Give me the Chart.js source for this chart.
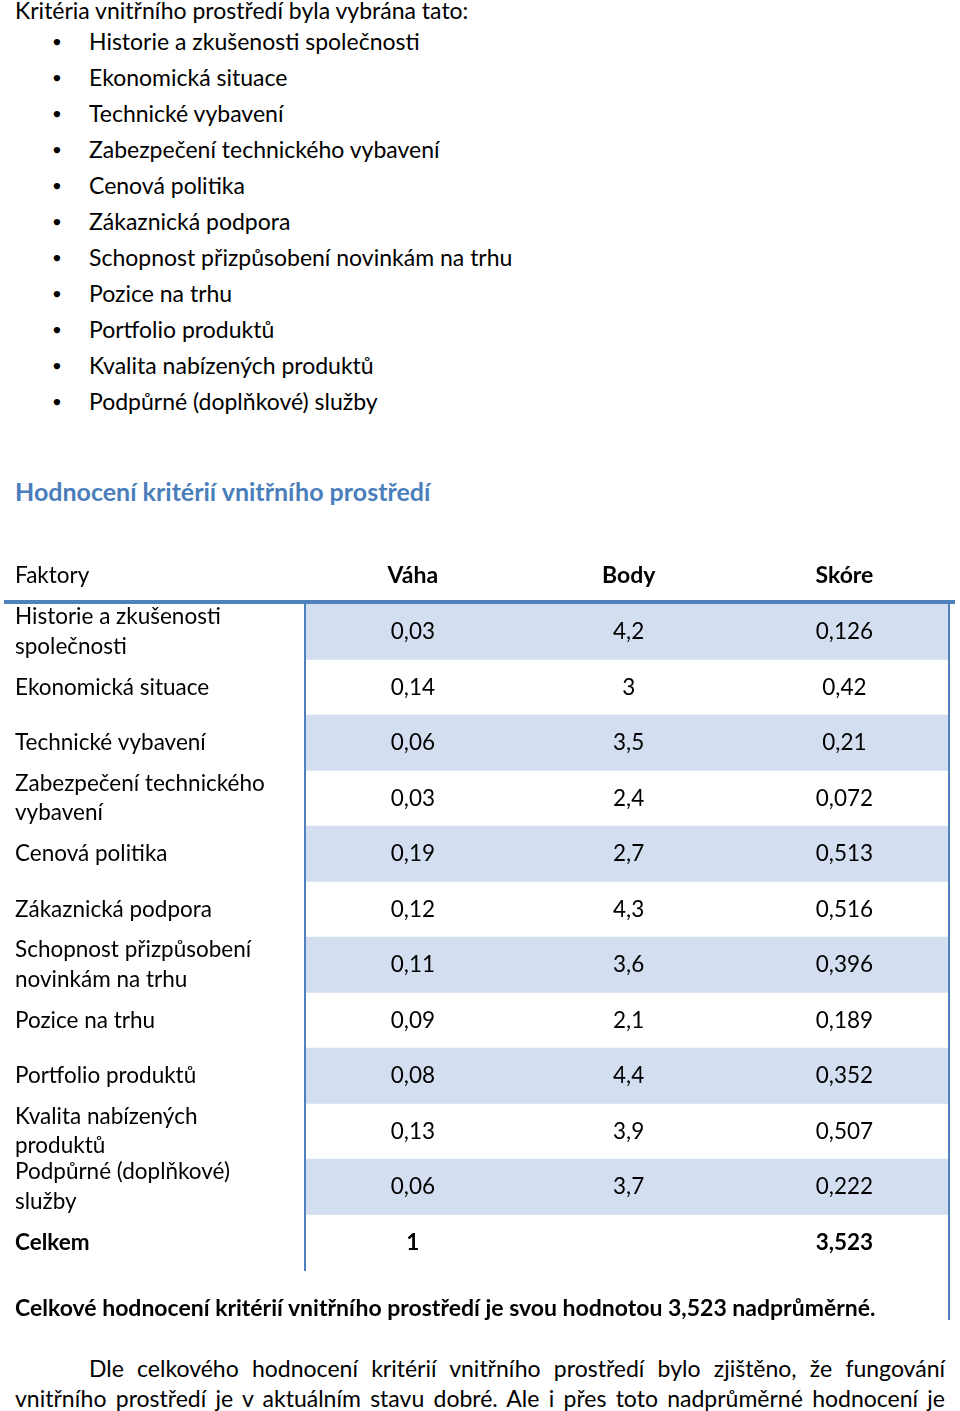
<!DOCTYPE html>
<html lang="cs">
<head>
<meta charset="utf-8">
<script src="https://cdn.jsdelivr.net/npm/chart.js@4/dist/chart.umd.min.js"></script>
<style>
  html, body { margin:0; padding:0; background:#fff; }
  body { width:960px; height:1411px; position:relative; overflow:hidden; font-family: Lato, "Open Sans", sans-serif; color:#000; }
  .t { position:absolute; white-space:nowrap; font-size:23px; line-height:26px; }
  .b { font-weight:bold; }
  #wrap { position:absolute; left:0; top:550px; width:960px; height:790px; }
  .just { position:absolute; left:15px; width:930px; font-size:23px; line-height:26px; text-align:justify; text-align-last:justify; white-space:nowrap; }
</style>
</head>
<body>
<div id="wrap"><canvas id="c" width="960" height="790"></canvas></div>
<div id="text"></div>
<script>
// ---- content ----
const introLine = "Kritéria vnitřního prostředí byla vybrána tato:";
const bulletItems = ["Historie a zkušenosti společnosti","Ekonomická situace","Technické vybavení","Zabezpečení technického vybavení","Cenová politika","Zákaznická podpora","Schopnost přizpůsobení novinkám na trhu","Pozice na trhu","Portfolio produktů","Kvalita nabízených produktů","Podpůrné (doplňkové) služby"];
const heading = "Hodnocení kritérií vnitřního prostředí";
const summary = "Celkové hodnocení kritérií vnitřního prostředí je svou hodnotou 3,523 nadprůměrné.";
const paraLines = ["Dle celkového hodnocení kritérií vnitřního prostředí bylo zjištěno, že fungování","vnitřního prostředí je v aktuálním stavu dobré. Ale i přes toto nadprůměrné hodnocení je"];

// ---- table data ----
const headerFirst = "Faktory";
const columns = ["Váha","Body","Skóre"];
const factors = [["Historie a zkušenosti","společnosti"],"Ekonomická situace","Technické vybavení",["Zabezpečení technického","vybavení"],"Cenová politika","Zákaznická podpora",["Schopnost přizpůsobení","novinkám na trhu"],"Pozice na trhu","Portfolio produktů",["Kvalita nabízených","produktů"],["Podpůrné (doplňkové)","služby"],"Celkem"];
const vaha  = [0.03,0.14,0.06,0.03,0.19,0.12,0.11,0.09,0.08,0.13,0.06,1];
const body  = [4.2,3,3.5,2.4,2.7,4.3,3.6,2.1,4.4,3.9,3.7,null];
const skore = [0.126,0.42,0.21,0.072,0.513,0.516,0.396,0.189,0.352,0.507,0.222,3.523];
const striped = [true,false,true,false,true,false,true,false,true,false,true,false];

const X_MIN = 0.5, X_MAX = 3.48;
const BLUE = '#4f81bd', STRIPE = '#d3dff0';
const FONT = 'Lato, "Open Sans", sans-serif';
const fmt = v => v === null ? '' : String(v).replace('.', ',');

// ---- HTML text ----
const T = document.getElementById('text');
function add(txt, x, yc, cls, style) {
  const d = document.createElement('div');
  d.className = 't ' + (cls || '');
  d.textContent = txt;
  d.style.left = x + 'px';
  d.style.top = (yc - 13) + 'px';
  if (style) Object.assign(d.style, style);
  T.appendChild(d);
}
add(introLine, 15, 10);
bulletItems.forEach((s, i) => {
  const y = 41 + i * 36;
  add('●', 53, y, '', {fontSize:'13px'});
  add(s, 89, y);
});
add(heading, 15, 491, 'b', {color:'#4a7ebb', fontSize:'25px'});
add(summary, 15, 1307, 'b');
paraLines.forEach((s, i) => {
  const d = document.createElement('div');
  d.className = 'just';
  d.textContent = s;
  d.style.top = (1368 + i * 30 - 13) + 'px';
  if (i === 0) { d.style.left = '89px'; d.style.width = '856px'; }
  T.appendChild(d);
});

// ---- chart ----
const tablePlugin = {
  id: 'tablePlugin',
  afterDraw(chart) {
    const {ctx, scales: {x, y}} = chart;
    ctx.save();
    // header
    ctx.fillStyle = '#000';
    ctx.textBaseline = 'middle';
    ctx.font = '22.5px ' + FONT;
    ctx.textAlign = 'left';
    ctx.fillText(headerFirst, 15, 26);
    ctx.font = 'bold 23px ' + FONT;
    ctx.textAlign = 'center';
    columns.forEach((c, i) => ctx.fillText(c, x.getPixelForValue(i + 1), 26));
    // cells
    factors.forEach((f, r) => {
      const py = y.getPixelForValue(r);
      ctx.font = (r === factors.length - 1 ? 'bold ' : '') + '22.5px ' + FONT;
      [vaha[r], body[r], skore[r]].forEach((v, c) => {
        ctx.fillText(fmt(v), x.getPixelForValue(c + 1), py);
      });
    });
    // top rule
    ctx.fillStyle = BLUE;
    ctx.fillRect(4, 50, 951, 4);
    // right rule
    ctx.fillRect(948, 52, 2, 770 - 52);
    ctx.restore();
  }
};

new Chart(document.getElementById('c'), {
  type: 'bar',
  data: {
    labels: factors,
    datasets: [{
      data: striped.map(s => s ? [X_MIN, X_MAX] : null),
      backgroundColor: STRIPE,
      borderWidth: 0,
      barPercentage: 1,
      categoryPercentage: 1
    }]
  },
  options: {
    indexAxis: 'y',
    responsive: false,
    animation: false,
    devicePixelRatio: 1,
    layout: { padding: { left: 15, right: 12, top: 54, bottom: 70 } },
    plugins: { legend: { display: false }, tooltip: { enabled: false } },
    scales: {
      x: { type: 'linear', min: X_MIN, max: X_MAX, display: false },
      y: {
        type: 'category',
        grid: { display: false },
        border: { display: true, color: BLUE, width: 2, z: 1 },
        ticks: {
          autoSkip: false,
          crossAlign: 'far',
          color: '#000',
          padding: 0,
          font: c => ({ family: FONT, size: 22.5, lineHeight: 1.33, weight: c.index === factors.length - 1 ? 'bold' : 'normal' })
        },
        afterFit: s => { s.width = 290; }
      }
    }
  },
  plugins: [tablePlugin]
});
</script>
</body>
</html>
